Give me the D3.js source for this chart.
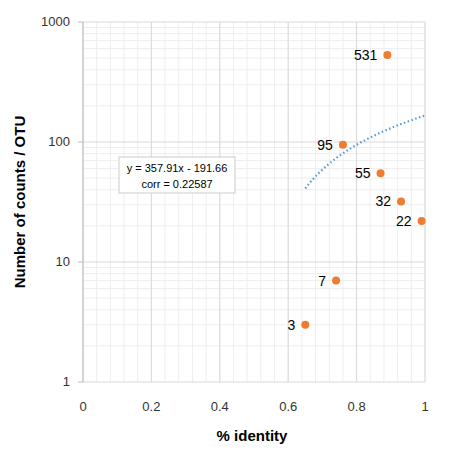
<!DOCTYPE html><html><head><script src="https://d3js.org/d3.v7.min.js"></script>
<style>body{margin:0;background:#fff}</style></head><body><svg width="450" height="454"></svg>
<script>
const xs=[0.65,0.74,0.76,0.87,0.89,0.93,0.99];
const ys=[3,7,95,55,531,32,22];
const labels=["3","7","95","55","531","32","22"];
const xTicks=[0,0.2,0.4,0.6,0.8,1];
const yTicks=[1,10,100,1000];
const slope=357.91, intercept=-191.66;
const trendX=d3.range(0.65,1.0001,0.01);
const svg=d3.select("svg"), f="Liberation Sans, Arial, sans-serif";
const x=d3.scaleLinear().domain([0,1]).range([83,425]);
const y=d3.scaleLog().domain([1,1000]).range([382,22]);
const g=svg.append("g");
for(let v=0;v<=1.0001;v+=0.04){g.append("line").attr("x1",x(v)).attr("x2",x(v)).attr("y1",22).attr("y2",382).attr("stroke","#eee");}
[1,10,100].forEach(d=>{for(let k=2;k<=9;k++){g.append("line").attr("x1",83).attr("x2",425).attr("y1",y(d*k)).attr("y2",y(d*k)).attr("stroke","#eee");}});
xTicks.forEach(v=>g.append("line").attr("x1",x(v)).attr("x2",x(v)).attr("y1",22).attr("y2",382).attr("stroke","#d9d9d9"));
yTicks.forEach(v=>g.append("line").attr("x1",83).attr("x2",425).attr("y1",y(v)).attr("y2",y(v)).attr("stroke","#d9d9d9"));
g.append("line").attr("x1",83).attr("x2",83).attr("y1",22).attr("y2",382).attr("stroke","#bfbfbf");
yTicks.forEach(v=>{g.append("line").attr("x1",78).attr("x2",83).attr("y1",y(v)).attr("y2",y(v)).attr("stroke","#bfbfbf");
 g.append("text").attr("x",70).attr("y",y(v)+4).attr("text-anchor","end").attr("font-family",f).attr("font-size",13).attr("fill","#333").text(v);});
xTicks.forEach(v=>g.append("text").attr("x",x(v)).attr("y",411).attr("text-anchor","middle").attr("font-family",f).attr("font-size",13).attr("fill","#333").text(v));
g.append("path").datum(trendX).attr("d",d3.line().x(d=>x(d)).y(d=>y(slope*d+intercept)).curve(d3.curveMonotoneX))
 .attr("fill","none").attr("stroke","#5b9bd5").attr("stroke-width",2.2).attr("stroke-dasharray","1.5,2.5");
xs.forEach((v,i)=>{g.append("circle").attr("cx",x(v)).attr("cy",y(ys[i])).attr("r",4).attr("fill","#ed7d31");
 g.append("text").attr("x",x(v)-10).attr("y",y(ys[i])+5).attr("text-anchor","end").attr("font-family",f).attr("font-size",14).attr("fill","#000").text(labels[i]);});
g.append("rect").attr("x",119).attr("y",157).attr("width",116).attr("height",36).attr("fill","#fff").attr("stroke","#ccc");
g.append("text").attr("x",177).attr("y",172).attr("text-anchor","middle").attr("font-family",f).attr("font-size",11).text("y = 357.91x - 191.66");
g.append("text").attr("x",177).attr("y",188).attr("text-anchor","middle").attr("font-family",f).attr("font-size",11).text("corr = 0.22587");
g.append("text").attr("x",252).attr("y",441).attr("text-anchor","middle").attr("font-family",f).attr("font-size",15).attr("font-weight","bold").text("% identity");
g.append("text").attr("transform","translate(25,202) rotate(-90)").attr("text-anchor","middle").attr("font-family",f).attr("font-size",15).attr("font-weight","bold").text("Number of counts  /  OTU");
</script></body></html>
